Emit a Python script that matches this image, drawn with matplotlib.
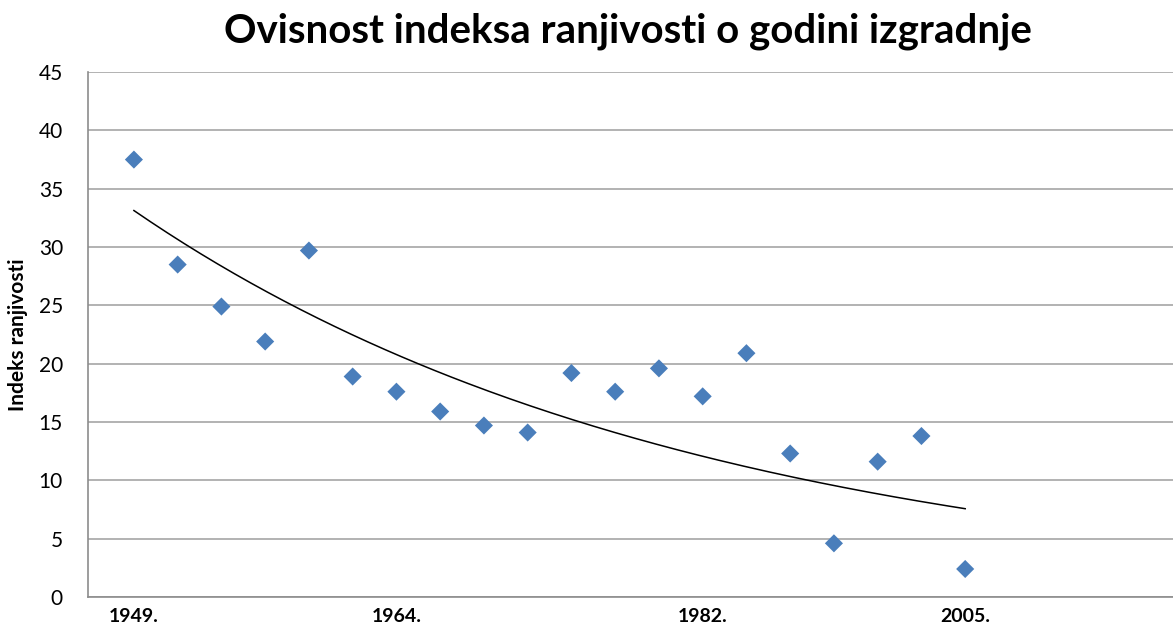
import numpy as np
from matplotlib import pyplot as plt

plt.rcParams['font.family'] = ['Lato', 'DejaVu Sans']

# vulnerability index per building, ordered by year of construction
index_values = [37.5, 28.5, 24.9, 21.9, 29.7, 18.9, 17.6, 15.9, 14.7, 14.1,
                19.2, 17.6, 19.6, 17.2, 20.9, 12.3, 4.6, 11.6, 13.8, 2.4]
label_positions = [0, 6, 13, 19]
year_labels = ['1949.', '1964.', '1982.', '2005.']

x = np.arange(len(index_values))
y = np.array(index_values)

# exponential trendline y = a*exp(b*x)
b, log_a = np.polyfit(x, np.log(y), 1)
xt = np.linspace(x[0], x[-1], 200)
yt = np.exp(log_a) * np.exp(b * xt)

fig = plt.figure(figsize=(11.73, 6.28), dpi=100)
ax = fig.add_axes([0.075, 0.0494, 0.925, 0.8358])

ax.yaxis.grid(True, color='#a6a6a6', linewidth=1.2)
ax.set_axisbelow(True)
ax.plot(xt, yt, color='black', linewidth=1.1, zorder=2)
ax.scatter(x, y, marker='D', s=85, color='#4a7ebb', edgecolors='none', zorder=3)

ax.set_ylim(0, 45)
ax.set_yticks(np.arange(0, 46, 5))
ax.set_xlim(-1.05, 23.75)
ax.set_xticks(label_positions)
ax.set_xticklabels(year_labels, fontweight='bold', fontsize=14)
ax.tick_params(axis='both', length=0, colors='black')
ax.tick_params(axis='y', labelsize=15, pad=18)
ax.tick_params(axis='x', pad=8)

for side in ['top', 'right']:
    ax.spines[side].set_visible(False)
for side in ['left', 'bottom']:
    ax.spines[side].set_color('#8c8c8c')
    ax.spines[side].set_linewidth(1.2)

ax.set_ylabel('Indeks ranjivosti', fontsize=15, fontweight='bold', labelpad=8)
fig.text(0.535, 0.95, 'Ovisnost indeksa ranjivosti o godini izgradnje',
         ha='center', va='center', fontsize=29, fontweight='bold')

plt.savefig('out.png', dpi=100)
